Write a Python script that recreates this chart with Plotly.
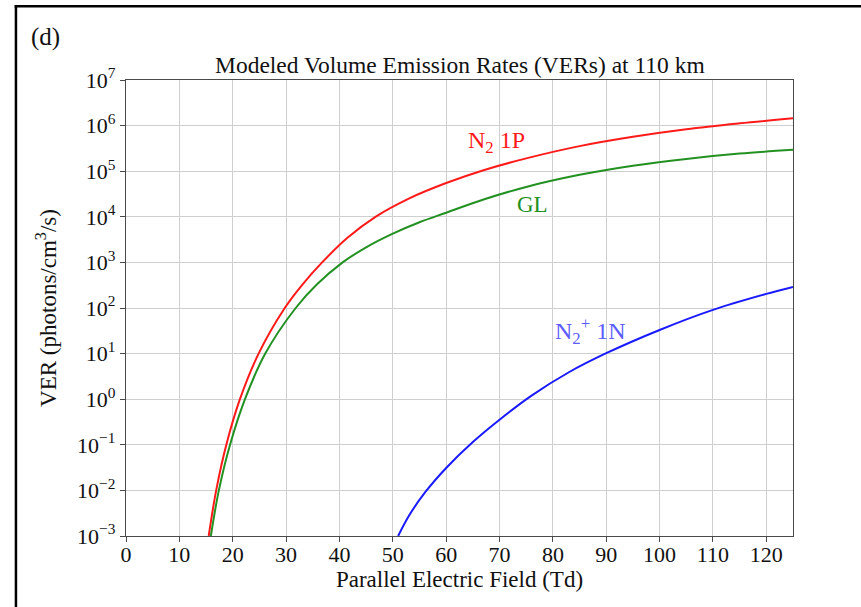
import plotly.graph_objects as go

# Parallel electric field (Td) and VER (photons/cm^3/s)
n2_1p_x = [15.5, 16.9, 18.8, 21.35, 24.85, 29.75, 33.1, 36.75, 41.5, 46.75, 53, 60, 67, 75, 85, 95, 105, 115, 125]
n2_1p_y = [1e-3, 1e-2, 1e-1, 1e0, 1e1, 1e2, 3.31e2, 1e3, 3.47e3, 1e4, 2.51e4, 5.5e4, 1.05e5, 1.91e5,
           3.55e5, 5.69e5, 8.32e5, 1.12e6, 1.45e6]

gl_x = [15.9, 17.4, 19.5, 22.3, 26.1, 31.8, 35.8, 40.6, 45, 50, 55, 60, 67, 75, 85, 95, 105, 115, 125]
gl_y = [1e-3, 1e-2, 1e-1, 1e0, 1e1, 1e2, 3.31e2, 1e3, 2.14e3, 4.27e3, 7.59e3, 1.23e4, 2.4e4, 4.52e4,
        8.32e4, 1.32e5, 1.86e5, 2.43e5, 2.95e5]

n2p_1n_x = [51, 53, 56, 60, 65, 70, 76, 83, 90, 100, 110, 120, 125]
n2p_1n_y = [1e-3, 2.75e-3, 8.9e-3, 3.1e-2, 0.115, 0.355, 1.2, 3.9, 10.2, 33, 91, 204, 290]

x_ticks = [0, 10, 20, 30, 40, 50, 60, 70, 80, 90, 100, 110, 120]
y_exps = [-3, -2, -1, 0, 1, 2, 3, 4, 5, 6, 7]

FONT = "Liberation Serif, Times New Roman, serif"
INK = "#111111"

fig = go.Figure()
fig.add_trace(go.Scatter(x=n2_1p_x, y=n2_1p_y, mode="lines",
                         line=dict(color="#ff1a1a", width=2, shape="spline", smoothing=1.0)))
fig.add_trace(go.Scatter(x=gl_x, y=gl_y, mode="lines",
                         line=dict(color="#229122", width=2, shape="spline", smoothing=1.0)))
fig.add_trace(go.Scatter(x=n2p_1n_x, y=n2p_1n_y, mode="lines",
                         line=dict(color="#1a1aff", width=2, shape="spline", smoothing=1.0)))

axis_common = dict(showline=True, linecolor="#4a4a4a", linewidth=1.3, mirror=True,
                   ticks="outside", ticklen=5, tickcolor="#4a4a4a",
                   showgrid=True, gridcolor="#cfcfcf", gridwidth=1,
                   zeroline=False, tickfont=dict(family=FONT, size=22, color=INK))

fig.update_xaxes(range=[0, 125], tickvals=x_ticks, ticklabelstandoff=-7,
                 title=dict(text="Parallel Electric Field (Td)", font=dict(family=FONT, size=23, color=INK),
                            standoff=0),
                 **axis_common)
fig.update_yaxes(type="log", range=[-3, 7],
                 tickvals=[10.0 ** e for e in y_exps],
                 ticktext=["10<sup>%s</sup>" % (str(e).replace("-", "−")) for e in y_exps],
                 title=dict(text="VER (photons/cm<sup>3</sup>/s)", font=dict(family=FONT, size=23, color=INK),
                            standoff=14),
                 **axis_common)

annotations = [
    dict(text="N<sub>2</sub> 1P", x=69.5, y=5.63, xref="x", yref="y", showarrow=False,
         font=dict(family=FONT, size=24, color="#ff1a1a")),
    dict(text="GL", x=76.2, y=4.27, xref="x", yref="y", showarrow=False,
         font=dict(family=FONT, size=23, color="#229122")),
    dict(text="N<sub>2</sub><sup>+</sup> 1N", x=87, y=1.49, xref="x", yref="y", showarrow=False,
         font=dict(family=FONT, size=24, color="#5c5cff")),
    dict(text="Modeled Volume Emission Rates (VERs) at 110 km", x=0.5, y=1, xref="paper", yref="paper",
         xanchor="center", yanchor="bottom", yshift=0, showarrow=False,
         font=dict(family=FONT, size=23.5, color=INK)),
    dict(text="(d)", x=-0.146, y=1.095, xref="paper", yref="paper", xanchor="left", yanchor="middle",
         showarrow=False, font=dict(family=FONT, size=25, color=INK)),
]

shapes = [
    dict(type="line", xref="paper", yref="paper", x0=-0.165, x1=-0.165, y0=1.164, y1=-0.2,
         line=dict(color="black", width=2.5)),
    dict(type="line", xref="paper", yref="paper", x0=-0.167, x1=1.2, y0=1.162, y1=1.162,
         line=dict(color="black", width=2.5)),
]

fig.update_layout(width=861, height=607, margin=dict(l=126, r=68, t=80, b=71),
                  plot_bgcolor="white", paper_bgcolor="white", showlegend=False,
                  annotations=annotations, shapes=shapes,
                  font=dict(family=FONT, size=22, color=INK))

fig.write_html("out.html")
